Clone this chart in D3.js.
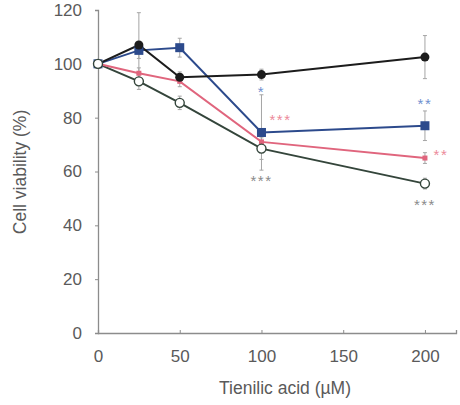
<!DOCTYPE html>
<html>
<head>
<meta charset="utf-8">
<script src="https://cdn.jsdelivr.net/npm/d3@7"></script>
<style>
  html, body { margin: 0; padding: 0; background: #fff; }
  svg { display: block; }
  text { font-family: "Liberation Sans", Arial, sans-serif; }
</style>
</head>
<body>
<svg id="chart" width="460" height="405"></svg>
<script>
// ---- data ----
const doses = [0, 25, 50, 100, 200];
const xTicks = [0, 50, 100, 150, 200];
const yTicks = [0, 20, 40, 60, 80, 100, 120];

const controlVals = [100, 107, 95, 96, 102.5];
const controlErr  = [0, 12, 2, 2, 8];
const blueVals    = [100, 105, 106, 74.5, 77];
const blueErr     = [0, 3, 3.5, 14, 5.5];
const pinkVals    = [100, 96.5, 93.5, 71, 65];
const pinkErr     = [0, 2, 2, 3, 2];
const greenVals   = [100, 93.5, 85.5, 68.5, 55.5];
const greenErr    = [0, 3, 2.5, 4, 2];

// significance marks
const sigDose  = [100, 100, 100, 200, 200, 200];
const sigValue = [91, 80.5, 58, 86.5, 67.5, 49];
const sigText  = ["*", "***", "***", "**", "**", "***"];
const sigDx    = [0, 19, 0, 0, 16, 0];
const sigColor = ["#6f8fcf", "#ec8a9a", "#8a8a8a", "#6f8fcf", "#ec8a9a", "#8a8a8a"];

// ---- chart ----
const svg = d3.select("#chart");
const x = d3.scaleLinear().domain([0, 219]).range([98, 456]);
const y = d3.scaleLinear().domain([0, 120]).range([333, 10]);

const axisColor = "#8c8c8c";
const textColor = "#5a5a5a";

const xAxis = svg.append("g").attr("transform", `translate(0,${y(0)})`)
  .call(d3.axisBottom(x).tickValues(xTicks).tickSize(-3).tickPadding(17).tickFormat(d3.format("d")));
const yAxis = svg.append("g").attr("transform", `translate(${x(0)},0)`)
  .call(d3.axisLeft(y).tickValues(yTicks).tickSize(3).tickPadding(13).tickFormat(d3.format("d")));
[xAxis, yAxis].forEach(g => {
  g.select(".domain").attr("stroke", axisColor).attr("stroke-width", 1.3);
  g.selectAll(".tick line").attr("stroke", axisColor);
  g.selectAll(".tick text").attr("fill", textColor).attr("font-size", 17)
    .attr("font-family", "'Liberation Sans', Arial, sans-serif");
});
xAxis.selectAll(".tick text").attr("dy", "0.71em");

svg.append("text").attr("x", 285).attr("y", 394).attr("text-anchor", "middle")
  .attr("fill", textColor).attr("font-size", 17.5).text("Tienilic acid (µM)");
svg.append("text").attr("transform", "translate(26,172) rotate(-90)").attr("text-anchor", "middle")
  .attr("fill", textColor).attr("font-size", 17.5).text("Cell viability (%)");

const series = [
  { vals: greenVals, err: greenErr, color: "#34453b", marker: "open" },
  { vals: pinkVals, err: pinkErr, color: "#e0657d", marker: "smallsq" },
  { vals: blueVals, err: blueErr, color: "#2c4a8c", marker: "square" },
  { vals: controlVals, err: controlErr, color: "#1c1c1c", marker: "dot" }
];

// error bars
const eb = svg.append("g").attr("stroke", "#a5a5a5").attr("stroke-width", 1);
series.forEach(s => {
  doses.forEach((d, i) => {
    if (!s.err[i]) return;
    const cx = x(d), y1 = y(s.vals[i] + s.err[i]), y2 = y(s.vals[i] - s.err[i]);
    eb.append("line").attr("x1", cx).attr("x2", cx).attr("y1", y1).attr("y2", y2);
    eb.append("line").attr("x1", cx - 2).attr("x2", cx + 2).attr("y1", y1).attr("y2", y1);
    eb.append("line").attr("x1", cx - 2).attr("x2", cx + 2).attr("y1", y2).attr("y2", y2);
  });
});

// lines
const line = d3.line().x((d, i) => x(doses[i])).y(d => y(d));
series.forEach(s => {
  svg.append("path").datum(s.vals).attr("d", line).attr("fill", "none")
    .attr("stroke", s.color).attr("stroke-width", 2);
});

// markers
function drawMarkers(s) {
  const g = svg.append("g");
  s.vals.forEach((v, i) => {
    const cx = x(doses[i]), cy = y(v);
    if (s.marker === "dot") {
      g.append("circle").attr("cx", cx).attr("cy", cy).attr("r", 4.5).attr("fill", s.color);
    } else if (s.marker === "open") {
      g.append("circle").attr("cx", cx).attr("cy", cy).attr("r", 4.5).attr("fill", "#fff")
        .attr("stroke", s.color).attr("stroke-width", 1.4);
    } else if (s.marker === "square") {
      g.append("rect").attr("x", cx - 4.5).attr("y", cy - 4.5).attr("width", 9).attr("height", 9).attr("fill", s.color);
    } else {
      g.append("rect").attr("x", cx - 2.5).attr("y", cy - 2.5).attr("width", 5).attr("height", 5).attr("fill", s.color);
    }
  });
}
[series[1], series[2], series[3], series[0]].forEach(drawMarkers);

// significance stars
sigText.forEach((t, i) => {
  svg.append("text").attr("x", x(sigDose[i]) + sigDx[i]).attr("y", y(sigValue[i]) + 9)
    .attr("text-anchor", "middle").attr("fill", sigColor[i]).attr("font-size", 15)
    .attr("letter-spacing", 1.5).text(t);
});
</script>
</body>
</html>
